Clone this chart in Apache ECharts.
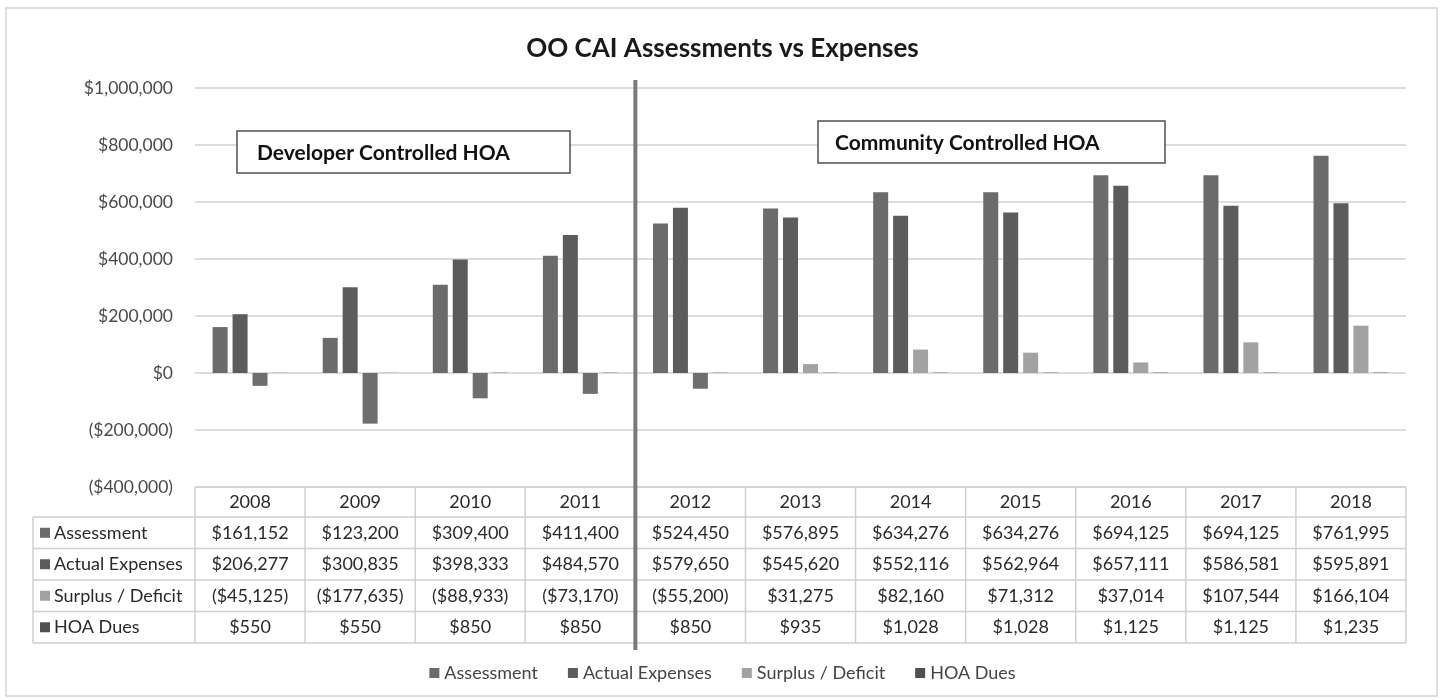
<!DOCTYPE html>
<html>
<head>
<meta charset="utf-8">
<script src="https://cdn.jsdelivr.net/npm/echarts@6/dist/echarts.min.js"></script>
<style>
  html, body { margin: 0; padding: 0; background: #fff; }
  #chart { width: 1445px; height: 700px; }
</style>
</head>
<body>
<div id="chart"></div>
<script>
// data
const years = ['2008', '2009', '2010', '2011', '2012', '2013', '2014', '2015', '2016', '2017', '2018'];
const assessment = [161152, 123200, 309400, 411400, 524450, 576895, 634276, 634276, 694125, 694125, 761995];
const actualExpenses = [206277, 300835, 398333, 484570, 579650, 545620, 552116, 562964, 657111, 586581, 595891];
const surplusDeficit = [-45125, -177635, -88933, -73170, -55200, 31275, 82160, 71312, 37014, 107544, 166104];
const hoaDues = [550, 550, 850, 850, 850, 935, 1028, 1028, 1125, 1125, 1235];

const seriesNames = ['Assessment', 'Actual Expenses', 'Surplus / Deficit', 'HOA Dues'];
const seriesColors = ['#6b6b6b', '#5c5c5c', '#a2a2a2', '#505050'];
const negColor = '#6e6e6e';

const FONT = 'Lato';

// layout of plot and table
const L = 195, R = 1406, T = 88, B = 487;
const colW = (R - L) / years.length;
const headH = 30, rowH = 31.5;
const labelLeft = 33;

function money(v) {
    const s = '$' + Math.abs(v).toLocaleString('en-US');
    return v < 0 ? '(' + s + ')' : s;
}

const rows = [assessment, actualExpenses, surplusDeficit, hoaDues];
const rowKeys = ['a', 'b', 'c', 'd'];

let myChart = echarts.init(document.getElementById('chart'));

// table lines + row labels
let graphics = [];
const lineStyle = { stroke: '#cfcfcf', lineWidth: 1.5 };
// outer border
graphics.push({ type: 'rect', shape: { x: 6, y: 8, width: 1431, height: 688 }, style: { fill: 'none', stroke: '#d2d2d2', lineWidth: 1.5 }, silent: true });
// header top
graphics.push({ type: 'line', shape: { x1: L, y1: B, x2: R, y2: B }, style: lineStyle });
for (let r = 0; r <= rows.length; r++) {
    const y = B + headH + r * rowH;
    graphics.push({ type: 'line', shape: { x1: labelLeft, y1: y, x2: R, y2: y }, style: lineStyle });
}
for (let c = 0; c <= years.length; c++) {
    const x = L + c * colW;
    graphics.push({ type: 'line', shape: { x1: x, y1: B, x2: x, y2: B + headH + rows.length * rowH }, style: lineStyle });
}
graphics.push({ type: 'line', shape: { x1: labelLeft, y1: B + headH, x2: labelLeft, y2: B + headH + rows.length * rowH }, style: lineStyle });
seriesNames.forEach(function (name, i) {
    const cy = B + headH + (i + 0.5) * rowH;
    graphics.push({ type: 'rect', shape: { x: 40, y: cy - 5, width: 10, height: 10 }, style: { fill: seriesColors[i] } });
    graphics.push({ type: 'text', x: 54, y: cy, style: { text: name, fill: '#2a2a2a', font: '18px ' + FONT, verticalAlign: 'middle' } });
});
// developer / community divider
graphics.push({ type: 'line', shape: { x1: L + 4 * colW, y1: 80, x2: L + 4 * colW, y2: 650 }, style: { stroke: '#7a7a7a', lineWidth: 4 }, z: 100 });
// annotation boxes
graphics.push({ type: 'rect', shape: { x: 237, y: 131, width: 333, height: 42 }, style: { fill: '#fff', stroke: '#505050', lineWidth: 1.5 }, z: 100 });
graphics.push({ type: 'text', x: 257, y: 153, style: { text: 'Developer Controlled HOA', fill: '#111', font: 'bold 21px ' + FONT, verticalAlign: 'middle' }, z: 101 });
graphics.push({ type: 'rect', shape: { x: 818, y: 121, width: 347, height: 42 }, style: { fill: '#fff', stroke: '#505050', lineWidth: 1.5 }, z: 100 });
graphics.push({ type: 'text', x: 835, y: 143, style: { text: 'Community Controlled HOA', fill: '#111', font: 'bold 21px ' + FONT, verticalAlign: 'middle' }, z: 101 });

let rich = { y: { fontSize: 18, fontFamily: FONT, color: '#2a2a2a', lineHeight: headH } };
rowKeys.forEach(function (k) {
    rich[k] = { fontSize: 18, fontFamily: FONT, color: '#2a2a2a', lineHeight: rowH };
});

let chartOption = {
    animation: false,
    title: {
        text: 'OO CAI Assessments vs Expenses',
        left: 'center',
        top: 31,
        textStyle: { fontFamily: FONT, fontSize: 26, fontWeight: 'bold', color: '#1a1a1a' }
    },
    legend: {
        bottom: 13,
        left: 'center',
        icon: 'rect',
        itemWidth: 10,
        itemHeight: 10,
        itemGap: 30,
        textStyle: { fontFamily: FONT, fontSize: 18, color: '#444' },
        data: seriesNames.map(function (n, i) { return { name: n, itemStyle: { color: seriesColors[i] } }; })
    },
    grid: {
        left: L,
        right: 1445 - R,
        top: T,
        bottom: 700 - B
    },
    xAxis: {
        type: 'category',
        data: years,
        axisLine: { show: false, onZero: false },
        axisTick: { show: false },
        axisLabel: {
            margin: 0,
            interval: 0,
            formatter: function (val, idx) {
                let s = '{y|' + val + '}';
                rows.forEach(function (arr, r) {
                    s += '\n{' + rowKeys[r] + '|' + money(arr[idx]) + '}';
                });
                return s;
            },
            rich: rich
        }
    },
    yAxis: {
        type: 'value',
        min: -400000,
        max: 1000000,
        interval: 200000,
        axisLine: { show: false },
        axisTick: { show: false },
        splitLine: { lineStyle: { color: '#d0d0d0', width: 1.5 } },
        axisLabel: {
            margin: 22,
            fontFamily: FONT,
            fontSize: 17.5,
            color: '#4a4a4a',
            formatter: money
        }
    },
    series: [
        {
            name: 'Assessment',
            type: 'bar',
            barWidth: 15,
            barGap: '33%',
            itemStyle: { color: seriesColors[0] },
            data: assessment
        },
        {
            name: 'Actual Expenses',
            type: 'bar',
            barWidth: 15,
            barGap: '33%',
            itemStyle: { color: seriesColors[1] },
            data: actualExpenses
        },
        {
            name: 'Surplus / Deficit',
            type: 'bar',
            barWidth: 15,
            barGap: '33%',
            itemStyle: {
                color: function (p) { return p.value < 0 ? negColor : seriesColors[2]; }
            },
            data: surplusDeficit
        },
        {
            name: 'HOA Dues',
            type: 'bar',
            barWidth: 15,
            barGap: '33%',
            itemStyle: { color: seriesColors[3] },
            data: hoaDues
        }
    ],
    graphic: graphics
};

myChart.setOption(chartOption);
</script>
</body>
</html>
